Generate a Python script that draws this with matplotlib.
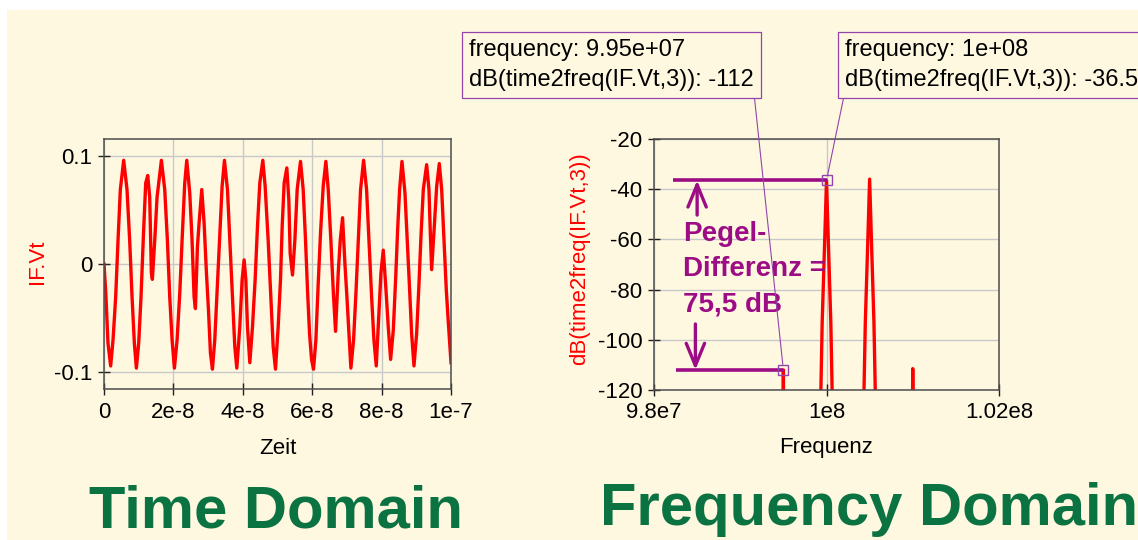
import matplotlib
matplotlib.use("Agg")
import matplotlib.pyplot as plt
import numpy as np
from matplotlib.patches import Rectangle, FancyArrowPatch

plt.rcParams['font.family'] = ['Liberation Sans', 'DejaVu Sans']

# ---------------- data ----------------
# IF voltage over time (time in ns, voltage in V)
time_ns = [
    0.00, 0.48, 1.15, 1.92, 2.60, 3.37, 4.04, 4.71, 5.67, 6.63,
    7.40, 8.08, 8.75, 9.33, 10.00, 10.67, 11.35, 12.02, 12.60, 13.17,
    13.65, 13.94, 14.62, 15.29, 16.54, 17.50, 18.27, 18.94, 19.62, 20.29,
    21.06, 21.83, 22.60, 23.27, 23.85, 24.71, 25.38, 25.96, 26.35, 26.92,
    27.40, 28.17, 28.85, 29.52, 30.10, 30.67, 31.25, 31.92, 32.69, 33.37,
    34.04, 34.71, 35.58, 36.25, 37.02, 37.69, 38.27, 39.13, 39.81, 40.38,
    40.87, 41.35, 42.02, 42.79, 43.56, 44.23, 44.90, 45.77, 46.44, 47.31,
    48.08, 48.75, 49.42,
    50.19, 50.87, 51.35, 51.92, 52.69, 53.27, 53.65, 54.33, 55.00, 55.67,
    56.63, 57.40, 58.08, 58.65, 59.23, 59.81, 60.38, 61.06, 61.73, 62.40,
    63.17, 63.94, 64.62, 65.38, 66.06, 66.73, 67.50, 68.08, 68.75, 69.42,
    70.00, 70.58, 71.15, 71.92, 72.60, 73.27, 73.94, 74.81, 75.67, 76.35,
    77.12, 77.79, 78.46, 79.23, 79.81, 80.48, 81.15, 81.92, 82.60, 83.37,
    84.04, 84.62, 85.19, 85.87, 86.73, 87.40, 88.08, 88.65, 89.33, 90.10,
    90.77, 91.35, 92.02, 92.98, 93.65, 94.04, 94.42, 95.19, 95.87, 96.63,
    97.31, 97.98, 98.65, 99.23, 100.00,
]
if_vt = [
    0.000, -0.024, -0.073, -0.094, -0.070, -0.030, 0.022, 0.069, 0.096, 0.069,
    0.022, -0.030, -0.073, -0.096, -0.073, -0.030, 0.026, 0.075, 0.082, 0.062,
    -0.008, -0.014, 0.022, 0.062, 0.096, 0.069, 0.022, -0.030, -0.070, -0.096,
    -0.070, -0.027, 0.029, 0.075, 0.096, 0.066, 0.022, -0.030, -0.041, 0.016,
    0.038, 0.069, 0.038, -0.008, -0.042, -0.082, -0.097, -0.070, -0.018, 0.029,
    0.072, 0.096, 0.069, 0.022, -0.030, -0.076, -0.096, -0.058, -0.014, 0.004,
    -0.014, -0.058, -0.091, -0.058, -0.014, 0.035, 0.075, 0.096, 0.072, 0.022,
    -0.030, -0.076, -0.097,
    -0.058, -0.014, 0.035, 0.075, 0.089, 0.059, 0.010, -0.010, 0.022, 0.069,
    0.095, 0.069, 0.022, -0.024, -0.064, -0.088, -0.097, -0.070, -0.018, 0.029,
    0.072, 0.095, 0.069, 0.022, -0.024, -0.062, -0.008, 0.022, 0.043, 0.001,
    -0.030, -0.064, -0.096, -0.070, -0.027, 0.022, 0.069, 0.096, 0.069, 0.022,
    -0.030, -0.070, -0.094, -0.045, -0.008, 0.013, -0.018, -0.058, -0.088, -0.061,
    -0.014, 0.032, 0.069, 0.095, 0.066, 0.022, -0.024, -0.064, -0.094, -0.064,
    -0.018, 0.026, 0.069, 0.092, 0.069, 0.029, -0.005, 0.035, 0.072, 0.093,
    0.069, 0.022, -0.024, -0.054, -0.091,
]

# spectrum dB(time2freq(IF.Vt,3)) over frequency (Hz)
spec_freq = [9.80e7, 9.9485e7, 9.95e7, 9.9515e7,
             9.989e7, 9.995e7, 9.9975e7, 1.0e8, 1.00025e8, 1.0005e8, 1.0011e8,
             1.0039e8, 1.0045e8, 1.00475e8, 1.005e8, 1.00525e8, 1.0055e8, 1.0061e8,
             1.00985e8, 1.01e8, 1.01015e8, 1.02e8]
spec_db = [-200, -200, -112, -200,
           -200, -93, -65, -36.5, -65, -93, -200,
           -200, -93, -65, -36, -65, -93, -200,
           -200, -111.5, -200, -200]

# marker readouts
marker_freq = [9.95e7, 1.0e8]
marker_db = [-112, -36.5]

time_ticks = [0, 2e-8, 4e-8, 6e-8, 8e-8, 1e-7]
time_tick_labels = ['0', '2e-8', '4e-8', '6e-8', '8e-8', '1e-7']
volt_ticks = [-0.1, 0, 0.1]
volt_tick_labels = ['-0.1', '0', '0.1']
freq_ticks = [9.8e7, 1.0e8, 1.02e8]
freq_tick_labels = ['9.8e7', '1e8', '1.02e8']
db_ticks = [-120, -100, -80, -60, -40, -20]
db_tick_labels = ['-120', '-100', '-80', '-60', '-40', '-20']

# ---------------- style ----------------
CREAM = '#fff8e1'
GREEN = '#0b7342'
PURPLE = '#9c0c84'
BOX_PURPLE = '#9344aa'
W, H = 1138, 540

fig = plt.figure(figsize=(W / 100, H / 100), dpi=100, facecolor='white')
fig.add_artist(Rectangle((7 / W, 0), 1 - 7 / W, 1 - 10 / H, transform=fig.transFigure,
                         facecolor=CREAM, edgecolor='none', zorder=-10))


def px_axes(left, top, right, bottom):
    return fig.add_axes([left / W, 1 - bottom / H, (right - left) / W, (bottom - top) / H])


def style(ax):
    ax.set_facecolor(CREAM)
    for s in ax.spines.values():
        s.set_color('#4d4d4d')
        s.set_linewidth(1.1)
    ax.grid(True, color='#c8c8c8', lw=1.0)
    ax.set_axisbelow(True)
    ax.tick_params(direction='inout', length=8, width=1, color='#222222', labelsize=16)
    ax.tick_params(axis='x', pad=5)
    ax.tick_params(axis='y', pad=4.5)


# ---------------- time domain ----------------
ax1 = px_axes(104, 139, 451, 389)
style(ax1)
ax1.plot(np.array(time_ns) * 1e-9, if_vt, color='red', lw=2.4, solid_joinstyle='round')
ax1.set_xlim(0, 1e-7)
ax1.set_ylim(-0.1153, 0.1157)
ax1.set_xticks(time_ticks)
ax1.set_xticklabels(time_tick_labels)
ax1.set_yticks(volt_ticks)
ax1.set_yticklabels(volt_tick_labels)
ax1.set_xlabel('Zeit', fontsize=16)
ax1.xaxis.set_label_coords(0.5, -0.26)
ax1.xaxis.label.set_va('baseline')
ax1.set_ylabel('IF.Vt', fontsize=16, color='red')
ax1.yaxis.set_label_coords(-0.193, 0.508)
ax1.yaxis.label.set_va('center')

# ---------------- frequency domain ----------------
ax2 = px_axes(654, 139, 999, 390)
style(ax2)
ax2.plot(spec_freq, spec_db, color='red', lw=2.4, solid_joinstyle='round')
ax2.set_xlim(9.8e7, 1.02e8)
ax2.set_ylim(-120, -20)
ax2.set_xticks(freq_ticks)
ax2.set_xticklabels(freq_tick_labels)
ax2.set_yticks(db_ticks)
ax2.set_yticklabels(db_tick_labels)
ax2.set_xlabel('Frequenz', fontsize=16)
ax2.xaxis.set_label_coords(0.5, -0.251)
ax2.xaxis.label.set_va('baseline')
ax2.set_ylabel('dB(time2freq(IF.Vt,3))', fontsize=16, color='red')
ax2.yaxis.set_label_coords(-0.2145, 0.522)
ax2.yaxis.label.set_va('center')

# level bars from the left edge to each marker
bar_start = [9.8255e7, 9.822e7]
for x0, f, db in zip(bar_start, marker_freq, marker_db):
    ax2.plot([x0, f], [db, db], color=PURPLE, lw=2.6, solid_capstyle='butt', zorder=3)

# marker squares
ax2.plot(marker_freq, marker_db, linestyle='none', marker='s', ms=6.5,
         mfc='none', mec=BOX_PURPLE, mew=1.0, zorder=5, clip_on=False)

# double arrow indicating the level difference
for x, y_tail, y_tip in [(9.850e7, -50.3, marker_db[1]), (9.848e7, -93.7, marker_db[0])]:
    ax2.add_patch(FancyArrowPatch((x, y_tail), (x, y_tip),
                                  arrowstyle='->,head_length=0.8,head_width=0.33',
                                  mutation_scale=20, color=PURPLE, lw=2.4,
                                  shrinkA=0, shrinkB=0, zorder=4))

# baseline of the last line is anchored
ax2.text(0.084, 0.312, 'Pegel-\nDifferenz =\n75,5 dB', transform=ax2.transAxes,
         fontsize=20, fontweight='bold', color=PURPLE, ha='left', va='baseline',
         linespacing=1.47, zorder=6)

# marker readout boxes with leader lines
for f, db, tx, relpos in [(marker_freq[0], marker_db[0], 469, (1, 0)),
                          (marker_freq[1], marker_db[1], 845, (0, 0))]:
    ax2.annotate(f"frequency: {f:.3g}\ndB(time2freq(IF.Vt,3)): {db:.3g}",
                 xy=(f, db), xycoords='data',
                 xytext=(tx, H - 86), textcoords='figure pixels',
                 ha='left', va='baseline', fontsize=17, linespacing=1.45,
                 bbox=dict(boxstyle='square,pad=0.3', fc=CREAM, ec=BOX_PURPLE, lw=0.9),
                 arrowprops=dict(arrowstyle='-', color=BOX_PURPLE, lw=0.8, relpos=relpos,
                                 shrinkA=0, shrinkB=4),
                 annotation_clip=False, zorder=7)

# ---------------- captions ----------------
fig.text(89 / W, 1 - 527 / H, 'Time Domain', fontsize=43, fontweight='bold',
         color=GREEN, ha='left', va='baseline')
fig.text(600 / W, 1 - 525 / H, 'Frequency Domain', fontsize=43, fontweight='bold',
         color=GREEN, ha='left', va='baseline')

fig.savefig('out.png', dpi=100, facecolor=fig.get_facecolor())
